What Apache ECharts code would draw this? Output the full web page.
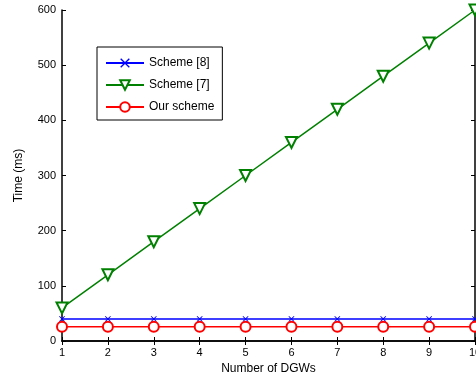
<!DOCTYPE html>
<html>
<head>
<meta charset="utf-8">
<script src="https://cdn.jsdelivr.net/npm/echarts@6/dist/echarts.min.js"></script>
<style>
  html, body { margin: 0; padding: 0; background: #fff; }
  #chart { width: 476px; height: 378px; }
</style>
</head>
<body>
<div id="chart"></div>
<script>
const dgws = [1, 2, 3, 4, 5, 6, 7, 8, 9, 10];
const scheme8 = [40, 40, 40, 40, 40, 40, 40, 40, 40, 40];
const scheme7 = [60, 120, 180, 240, 300, 360, 420, 480, 540, 600];
const ourScheme = [26, 26, 26, 26, 26, 26, 26, 26, 26, 26];

const font = 'Liberation Sans, Arial, sans-serif';
const crossPath = 'path://M0,1L1,0L5,4L9,0L10,1L6,5L10,9L9,10L5,6L1,10L0,9L4,5Z';

const chart = echarts.init(document.getElementById('chart'));

function pairs(ys) {
    return dgws.map((x, i) => [x, ys[i]]);
}

const axisCommon = {
    axisLine: { lineStyle: { color: '#000', width: 1.5 } },
    axisTick: { inside: true, length: 4, lineStyle: { color: '#000' } },
    splitLine: { show: false }
};

chart.setOption({
    animation: false,
    textStyle: { fontFamily: font },
    grid: { left: 62, right: 1, top: 10, bottom: 37, outerBoundsMode: 'none' },
    legend: {
        orient: 'vertical',
        left: 97,
        top: 47,
        padding: [10, 8, 7, 8],
        itemGap: 10,
        itemWidth: 38,
        itemHeight: 12,
        borderColor: '#000',
        borderWidth: 1,
        backgroundColor: '#fff',
        textStyle: { fontFamily: font, fontSize: 12, color: '#000' },
        data: ['Scheme [8]', 'Scheme [7]', 'Our scheme']
    },
    xAxis: [
        Object.assign({
            type: 'value', min: 1, max: 10, interval: 1,
            name: 'Number of DGWs', nameLocation: 'middle', nameGap: 22,
            nameTextStyle: { fontSize: 12, color: '#000' },
            axisLabel: { fontSize: 11, color: '#000', margin: 6, alignMaxLabel: 'center', hideOverlap: false }
        }, axisCommon),
        Object.assign({
            type: 'value', min: 1, max: 10, interval: 1, position: 'top',
            axisLabel: { show: false }
        }, axisCommon)
    ],
    yAxis: [
        Object.assign({
            type: 'value', min: 0, max: 600, interval: 100,
            name: 'Time (ms)', nameLocation: 'middle', nameGap: 37,
            nameTextStyle: { fontSize: 12, color: '#000' },
            axisLabel: { fontSize: 11, color: '#000', margin: 6 }
        }, axisCommon),
        Object.assign({
            type: 'value', min: 0, max: 600, interval: 100, position: 'right',
            axisLabel: { show: false }
        }, axisCommon)
    ],
    series: [
        {
            name: 'Scheme [8]', type: 'line', data: pairs(scheme8),
            symbol: crossPath, symbolSize: 6,
            lineStyle: { color: '#0000ff', width: 1.5 },
            itemStyle: { color: '#0000ff' }
        },
        {
            name: 'Scheme [7]', type: 'line', data: pairs(scheme7),
            symbol: 'emptyTriangle', symbolRotate: 180, symbolSize: 11,
            lineStyle: { color: '#008000', width: 1.5 },
            itemStyle: { color: '#008000', borderWidth: 1.5 }
        },
        {
            name: 'Our scheme', type: 'line', data: pairs(ourScheme),
            symbol: 'emptyCircle', symbolSize: 10,
            lineStyle: { color: '#ff0000', width: 1.5 },
            itemStyle: { color: '#ff0000', borderWidth: 1.5 }
        }
    ]
});
</script>
</body>
</html>
